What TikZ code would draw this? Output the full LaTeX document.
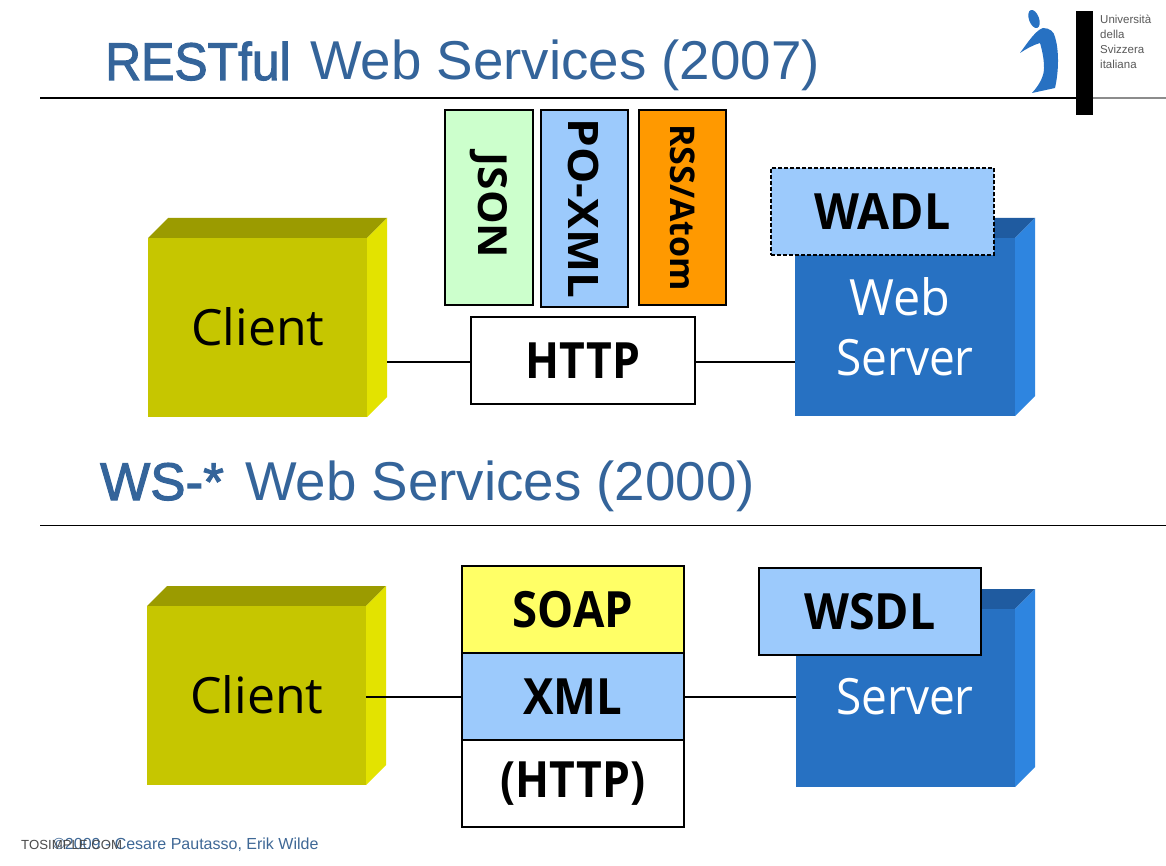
\documentclass[tikz,border=0pt]{standalone}
\usepackage{fontspec}
\setmainfont{Open Sans}
\newfontfamily\titlefont{Liberation Sans}
\newcommand{\hs}[2]{\scalebox{#1}[1]{#2}}
\newcommand{\heavy}[1]{\special{pdf:code q 0.204 0.392 0.604 RG 1.1 w 2 Tr}#1\special{pdf:code 0 Tr Q}}
\definecolor{titleblue}{HTML}{34649A}
\definecolor{oliveF}{HTML}{C6C600}
\definecolor{oliveT}{HTML}{9B9B00}
\definecolor{oliveS}{HTML}{E3E300}
\definecolor{blueF}{HTML}{2771C2}
\definecolor{blueT}{HTML}{1F5BA0}
\definecolor{blueS}{HTML}{2E85E0}
\definecolor{lblue}{HTML}{9CCAFC}
\definecolor{lgreen}{HTML}{CCFFCC}
\definecolor{lorange}{HTML}{FF9900}
\definecolor{lyellow}{HTML}{FFFF66}
\tikzset{
  x=1pt,y=-1pt,
  face/.style={minimum width=#1,inner sep=0pt,outer sep=0pt,anchor=north west},
  tag/.style={draw=black,line width=1.25pt,inner sep=0pt,outer sep=0pt,anchor=north west,font=\fontsize{50}{50}\selectfont\bfseries,text=black},
  fmt/.style={font=\fontsize{40}{40}\selectfont\bfseries,rotate=-90,inner sep=0pt},
  facetext/.style={inner sep=0pt,font=\fontsize{50}{50}\selectfont},
  link/.style={draw=black,line width=1.6pt},
  titletext/.style={inner sep=0pt,anchor=base west,text=titleblue,font=\fontsize{54.7}{55}\titlefont},
  rule/.style={draw=black,line width=1.4pt},
}
\begin{document}
\begin{tikzpicture}
\useasboundingbox (0,0) rectangle (1166,866);
\fill[white] (0,0) rectangle (1166,866);
% rules
\coordinate (r1a) at (40,98); \coordinate (r1b) at (1080,98);
\coordinate (r1c) at (1092,98); \coordinate (r1d) at (1166,98);
\coordinate (r2a) at (40,525); \coordinate (r2b) at (1166,525);
\draw[rule] (r1a) -- (r1b);
\draw[draw=black!45,line width=1.4pt] (r1c) -- (r1d);
\draw[rule,line width=1pt] (r2a) -- (r2b);
% titles
\node[titletext,font=\fontsize{53}{53}\titlefont] (t1a) at (105,80) {\hs{0.94}{\heavy{RESTful}}};
\node[titletext] (t1b) at (310,80) {Web Services (2007)};
\node[titletext,font=\fontsize{53}{53}\titlefont] (t2a) at (100,500) {\heavy{WS-*}};
\node[titletext] (t2b) at (245,500) {Web Services (2000)};
% logo
\fill[black] (1076,11) rectangle (1093,115);
\fill[blueF] (1034,19) ellipse[x radius=5,y radius=9.5,rotate=20];
\fill[blueF] (1020,53) .. controls (1028,42) and (1036,30) .. (1043,28)
  .. controls (1050,28) and (1054,32) .. (1055,37)
  .. controls (1059,50) and (1059,70) .. (1055,88) -- (1032,93)
  .. controls (1040,84) and (1044,76) .. (1044,68)
  .. controls (1044,58) and (1042,50) .. (1040,43)
  .. controls (1033,45) and (1026,49) .. (1020,53) -- cycle;
\node[inner sep=0pt,anchor=north west,align=left,text=black!65,font=\fontsize{11.5}{15}\titlefont] (logo) at (1100,15) {Università\\della\\Svizzera\\italiana};
% top client
\fill[oliveT] (148,238) -- (168,218) -- (387,218) -- (367,238) -- cycle;
\fill[oliveS] (367,238) -- (387,218) -- (387,397) -- (367,417) -- cycle;
\node[face=219pt,minimum height=179pt,fill=oliveF] (c1) at (148,238) {};
\node[facetext] (c1t) at (258,327) {Client};
% top server
\fill[blueT] (795,238) -- (815,218) -- (1035,218) -- (1015,238) -- cycle;
\fill[blueS] (1015,238) -- (1035,218) -- (1035,396) -- (1015,416) -- cycle;
\node[face=220pt,minimum height=178pt,fill=blueF] (s1) at (795,238) {};
\node[facetext,text=white] (s1a) at (900,297) {\hs{0.97}{Web}};
\node[facetext,text=white] (s1b) at (905,358) {\hs{0.92}{Server}};
% WADL
\node[tag,line width=1.5pt,dash pattern=on 4pt off 2pt,fill=lblue,minimum width=223pt,minimum height=87pt] (wadl) at (771,168) {\hs{0.93}{WADL}};
% format boxes
\node[tag,fill=lgreen,minimum width=88pt,minimum height=195pt] (json) at (445,110) {};
\node[fmt,xshift=-2pt] at (json.center) {\hs{1.06}{JSON}};
\node[tag,fill=lblue,minimum width=87pt,minimum height=197pt] (poxml) at (541,110) {};
\node[fmt,font=\fontsize{42}{42}\selectfont\bfseries,yshift=-1pt] at (poxml.center) {\hs{1.09}{PO-XML}};
\node[tag,fill=lorange,minimum width=87pt,minimum height=195pt] (rss) at (639,110) {};
\node[fmt,font=\fontsize{34}{34}\selectfont\bfseries] at (rss.center) {RSS/Atom};
% HTTP
\node[tag,fill=white,minimum width=224pt,minimum height=87pt] (http) at (471,317) {\hs{0.89}{HTTP}};
\coordinate (c1r) at (387,362);
\draw[link] (c1r) -- (http.west |- c1r);
\draw[link] (http.east |- c1r) -- (s1.west |- c1r);
% lower client
\fill[oliveT] (147,606) -- (167,586) -- (386,586) -- (366,606) -- cycle;
\fill[oliveS] (366,606) -- (386,586) -- (386,765) -- (366,785) -- cycle;
\node[face=219pt,minimum height=179pt,fill=oliveF] (c2) at (147,606) {};
\node[facetext] (c2t) at (257,695) {Client};
% lower server
\fill[blueT] (796,609) -- (816,589) -- (1035,589) -- (1015,609) -- cycle;
\fill[blueS] (1015,609) -- (1035,589) -- (1035,767) -- (1015,787) -- cycle;
\node[face=219pt,minimum height=178pt,fill=blueF] (s2) at (796,609) {};
\node[facetext,text=white] (s2b) at (905,697) {\hs{0.92}{Server}};
% WSDL
\node[tag,fill=lblue,minimum width=222pt,minimum height=87pt] (wsdl) at (759,568) {\hs{0.93}{WSDL}};
% stack
\node[tag,fill=lyellow,minimum width=222pt,minimum height=87pt] (soap) at (462,566) {\hs{0.91}{SOAP}};
\node[tag,fill=lblue,minimum width=222pt,minimum height=87pt] (xml) at (462,653) {\hs{0.91}{XML}};
\node[tag,fill=white,minimum width=222pt,minimum height=87pt] (hh) at (462,740) {\raisebox{-5pt}{\hs{0.89}{(HTTP)}}};
\coordinate (c2r) at (366,697);
\draw[link] (c2r) -- (xml.west |- c2r);
\draw[link] (xml.east |- c2r) -- (s2.west |- c2r);
% footer
\node[inner sep=0pt,anchor=base west,text=titleblue!85!gray,font=\fontsize{16}{16}\titlefont] (foot) at (53,849) {©2009 - Cesare Pautasso, Erik Wilde};
\node[inner sep=0pt,anchor=base west,text=black!70,font=\fontsize{13.2}{13}\titlefont] (wm) at (21,849) {TOSIMPLE.COM};
\end{tikzpicture}
\end{document}
